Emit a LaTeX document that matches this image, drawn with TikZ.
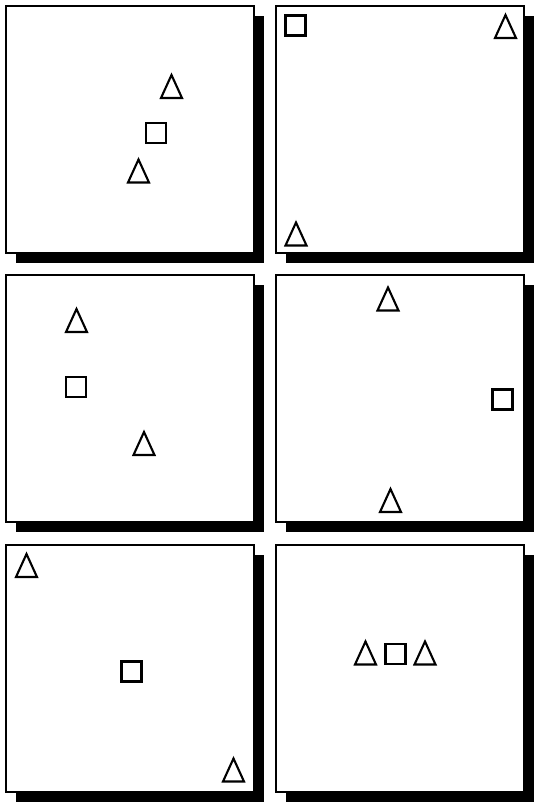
\documentclass[tikz,border=0pt]{standalone}
\begin{document}
\begin{tikzpicture}[x=1pt,y=-1pt,
  panelbox/.style={draw=black,line width=2pt,fill=white},
  shadowbox/.style={fill=black},
  mark shape/.style={draw=black,line width=2.1pt,line join=miter},
  sq/.style={mark shape,minimum size=20pt,inner sep=0pt,rectangle}]
\useasboundingbox[fill=white] (0,0) rectangle (533,802);
\newcommand\panelat[3]{%
  \fill[shadowbox] ({#1+11},{#2+11}) rectangle ({#1+259},{#2+258});
  \node[panelbox,minimum width=248pt,minimum height=247pt,inner sep=0pt,anchor=north west] (#3) at (#1,#2) {};}
\newcommand\tri[2]{%
  \draw[mark shape] ({#1-10.5},{#2+11.5}) -- ({#1},{#2-11.5}) -- ({#1+10.5},{#2+11.5}) -- cycle;}
% panels
\panelat{5}{5}{pa}
\panelat{275}{5}{pb}
\panelat{5}{274}{pc}
\panelat{275}{274}{pd}
\panelat{5}{544}{pe}
\panelat{275}{544}{pf}
% panel a
\tri{171.5}{86.5}
\node[sq] (sa) at (156,133) {};
\tri{138.5}{171}
% panel b
\node[sq] (sb) at (295.5,25.5) {};
\tri{505.5}{26.5}
\tri{296}{234}
% panel c
\tri{76.5}{320.5}
\node[sq] (sc) at (76,387) {};
\tri{144}{443.5}
% panel d
\tri{388}{299}
\node[sq] (sd) at (502.5,399.5) {};
\tri{390.5}{500.5}
% panel e
\tri{26.5}{565.5}
\node[sq] (se) at (131.5,671.5) {};
\tri{233.5}{770}
% panel f
\tri{365.5}{653}
\node[sq] (sf) at (395.5,654) {};
\tri{425}{653}
\end{tikzpicture}
\end{document}
